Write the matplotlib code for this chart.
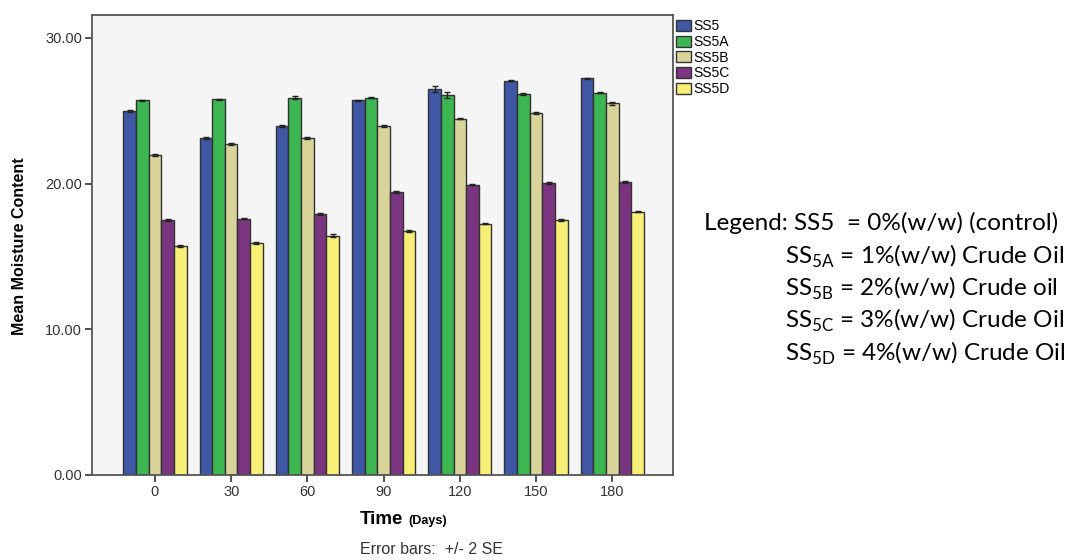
import matplotlib.pyplot as plt
import numpy as np

days = ["0", "30", "60", "90", "120", "150", "180"]
series = ["SS5", "SS5A", "SS5B", "SS5C", "SS5D"]

ss5 = [25.00, 23.13, 23.97, 25.71, 26.49, 27.08, 27.22]
ss5a = [25.71, 25.78, 25.91, 25.91, 26.08, 26.15, 26.24]
ss5b = [21.96, 22.73, 23.13, 23.97, 24.47, 24.84, 25.53]
ss5c = [17.51, 17.60, 17.93, 19.44, 19.94, 20.05, 20.10]
ss5d = [15.71, 15.93, 16.44, 16.74, 17.26, 17.49, 18.08]

# +/- 2 SE
err_ss5 = [0.05, 0.05, 0.05, 0.05, 0.20, 0.05, 0.05]
err_ss5a = [0.05, 0.05, 0.10, 0.05, 0.20, 0.05, 0.05]
err_ss5b = [0.05, 0.05, 0.05, 0.05, 0.05, 0.05, 0.10]
err_ss5c = [0.05, 0.05, 0.08, 0.05, 0.05, 0.05, 0.05]
err_ss5d = [0.05, 0.05, 0.10, 0.05, 0.05, 0.05, 0.05]

colors = ["#3f57a5", "#3cb650", "#d8d49a", "#7b3580", "#f8ef76"]

means = [ss5, ss5a, ss5b, ss5c, ss5d]
errs = [err_ss5, err_ss5a, err_ss5b, err_ss5c, err_ss5d]

plt.rcParams["font.family"] = "Liberation Sans"

W, H = 1076, 560
fig = plt.figure(figsize=(W / 100, H / 100), dpi=100)
ax = fig.add_axes([0.0852, 0.1518, 0.5405, 0.822])
ax.set_facecolor("#f5f5f5")

x = np.arange(len(days))
w = 0.166
for i, (m, e) in enumerate(zip(means, errs)):
    pos = x + (i - 2) * w
    ax.bar(pos, m, width=w, color=colors[i], edgecolor="#333333",
           linewidth=1.0, label=series[i])
    ax.errorbar(pos, m, yerr=e, fmt="none", ecolor="#222222",
                elinewidth=1.0, capsize=2, capthick=1.0)

ax.set_xlim(-0.83, 6.8)
ax.set_ylim(0, 31.6)
ax.set_yticks([0, 10, 20, 30])
ax.set_yticklabels(["0.00", "10.00", "20.00", "30.00"])
ax.set_xticks(x)
ax.set_xticklabels(days)
ax.tick_params(labelsize=10.5, colors="#333333", length=5, width=1.2, pad=2)
for s in ax.spines.values():
    s.set_color("#555555")
    s.set_linewidth(1.3)

fig.text(20 / W, 1 - 246 / H, "Mean Moisture Content", fontsize=11.5,
         fontweight="bold", rotation=90, va="center", ha="center")

fig.text(360 / W, 1 - 519 / H, "Time", fontsize=13.5, fontweight="bold",
         va="center", ha="left")
fig.text(408 / W, 1 - 521 / H, "(Days)", fontsize=9, fontweight="bold",
         va="center", ha="left")
fig.text(360 / W, 1 - 550 / H, "Error bars:  +/- 2 SE", fontsize=11.5,
         color="#333333", va="center", ha="left")

ax.legend(loc="upper left", bbox_to_anchor=(1.004, 0.99), frameon=False,
          fontsize=10, handlelength=1.1, handleheight=0.85,
          handletextpad=0.15, labelspacing=0.12, borderaxespad=0, borderpad=0)

# explanatory key on the right
key_font = "Lato"
fig.text(704 / W, 1 - 223 / H, "Legend: SS5  = 0%(w/w) (control)",
         fontsize=17.5, family=key_font, va="center", ha="left")
key_lines = [
    ("5A", "1%(w/w) Crude Oil"),
    ("5B", "2%(w/w) Crude oil"),
    ("5C", "3%(w/w) Crude Oil"),
    ("5D", "4%(w/w) Crude Oil"),
]
key_y = [256, 288, 320, 353]
for (sub, txt), yy in zip(key_lines, key_y):
    fig.text(785 / W, 1 - yy / H,
             "SS$_{\\mathregular{" + sub + "}}$ = " + txt,
             fontsize=17.5, family=key_font, va="center", ha="left")

fig.savefig("out.png", dpi=100)
